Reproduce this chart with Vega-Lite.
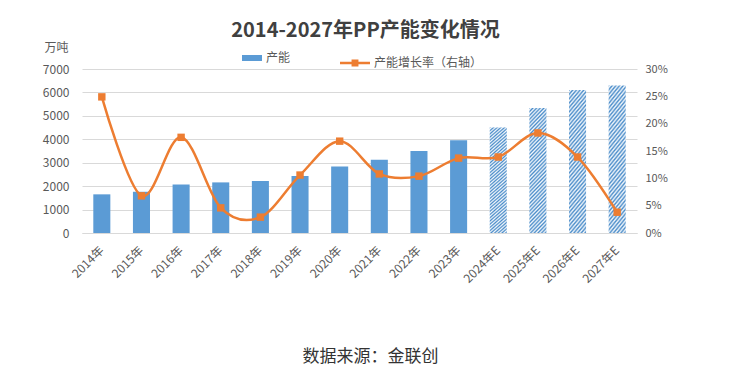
{
  "$schema": "https://vega.github.io/schema/vega-lite/v6.json",
  "width": 555,
  "height": 164,
  "autosize": {"type": "none"},
  "padding": {"left": 82, "top": 69, "right": 93, "bottom": 147},
  "background": "#ffffff",
  "title": {
    "text": "2014-2027年PP产能变化情况",
    "fontSize": 20,
    "fontWeight": "bold",
    "color": "#404040",
    "font": "Noto Sans CJK SC",
    "anchor": "middle",
    "dx": 6,
    "offset": 0
  },
  "config": {
    "view": {"stroke": null},
    "font": "Noto Sans CJK SC",
    "axis": {"labelFont": "Noto Sans CJK SC", "titleFont": "Noto Sans CJK SC"},
    "legend": {"labelFont": "Noto Sans CJK SC"}
  },
  "data": {
    "values": [
      {"year": "2014年", "cap": 1650, "rate": 0.249, "kind": "actual"},
      {"year": "2015年", "cap": 1760, "rate": 0.068, "kind": "actual"},
      {"year": "2016年", "cap": 2070, "rate": 0.175, "kind": "actual"},
      {"year": "2017年", "cap": 2160, "rate": 0.046, "kind": "actual"},
      {"year": "2018年", "cap": 2220, "rate": 0.029, "kind": "actual"},
      {"year": "2019年", "cap": 2430, "rate": 0.106, "kind": "actual"},
      {"year": "2020年", "cap": 2840, "rate": 0.168, "kind": "actual"},
      {"year": "2021年", "cap": 3130, "rate": 0.108, "kind": "actual"},
      {"year": "2022年", "cap": 3500, "rate": 0.104, "kind": "actual"},
      {"year": "2023年", "cap": 3960, "rate": 0.137, "kind": "actual"},
      {"year": "2024年E", "cap": 4500, "rate": 0.139, "kind": "forecast"},
      {"year": "2025年E", "cap": 5340, "rate": 0.183, "kind": "forecast"},
      {"year": "2026年E", "cap": 6100, "rate": 0.139, "kind": "forecast"},
      {"year": "2027年E", "cap": 6300, "rate": 0.038, "kind": "forecast"}
    ]
  },
  "encoding": {
    "x": {
      "field": "year",
      "type": "nominal",
      "sort": null,
      "scale": {"paddingInner": 0.57, "paddingOuter": 0.285},
      "axis": {
        "title": "数据来源：金联创",
        "titleFontSize": 17,
        "titleFontWeight": "normal",
        "titleColor": "#333333",
        "titleX": 288,
        "titleY": 115,
        "titleBaseline": "top",
        "titleAlign": "center",
        "labelAngle": -45,
        "labelAlign": "right",
        "labelBaseline": "middle",
        "labelFontSize": 12,
        "labelColor": "#595959",
        "labelPadding": 15,
        "labelOverlap": false,
        "ticks": false,
        "domainColor": "#D9D9D9",
        "domainWidth": 1
      }
    }
  },
  "layer": [
    {
      "encoding": {
        "y": {
          "field": "cap",
          "type": "quantitative",
          "scale": {"domain": [0, 7000]},
          "axis": {
            "values": [0, 1000, 2000, 3000, 4000, 5000, 6000, 7000],
            "format": "d",
            "labelOverlap": false,
            "grid": true,
            "title": "万吨",
            "titleAngle": 0,
            "titleX": -26,
            "titleY": -22,
            "titleAlign": "center",
            "titleBaseline": "middle",
            "titleFontSize": 12,
            "titleFontWeight": "normal",
            "titleColor": "#595959",
            "labelFontSize": 12,
            "labelColor": "#595959",
            "labelPadding": 13,
            "ticks": false,
            "domain": false,
            "gridColor": "#D9D9D9",
            "gridWidth": 1
          }
        }
      },
      "layer": [
        {
          "transform": [{"filter": "datum.kind === 'actual'"}],
          "mark": {"type": "bar"},
          "encoding": {
            "color": {
              "datum": "产能",
              "type": "nominal",
              "scale": {"range": ["#5B9BD5"]},
              "legend": {
                "orient": "none",
                "legendX": 160,
                "legendY": -21,
                "title": null,
                "symbolType": "M-1,-0.3H1V0.3H-1Z",
                "symbolSize": 400,
                "symbolStrokeWidth": 0,
                "labelFontSize": 12,
                "labelColor": "#595959",
                "labelOffset": 4
              }
            }
          }
        },
        {
          "transform": [{"filter": "datum.kind === 'forecast'"}],
          "mark": {
            "type": "bar",
            "fill": {
              "gradient": "linear",
              "x1": 0, "y1": 0, "x2": 0.17, "y2": 1.2,
              "stops": [
                {"offset": 0, "color": "#4A8CC9"}, {"offset": 0.0125, "color": "#F4F8FC"},
                {"offset": 0.025, "color": "#4A8CC9"}, {"offset": 0.0375, "color": "#F4F8FC"},
                {"offset": 0.05, "color": "#4A8CC9"}, {"offset": 0.0625, "color": "#F4F8FC"},
                {"offset": 0.075, "color": "#4A8CC9"}, {"offset": 0.0875, "color": "#F4F8FC"},
                {"offset": 0.1, "color": "#4A8CC9"}, {"offset": 0.1125, "color": "#F4F8FC"},
                {"offset": 0.125, "color": "#4A8CC9"}, {"offset": 0.1375, "color": "#F4F8FC"},
                {"offset": 0.15, "color": "#4A8CC9"}, {"offset": 0.1625, "color": "#F4F8FC"},
                {"offset": 0.175, "color": "#4A8CC9"}, {"offset": 0.1875, "color": "#F4F8FC"},
                {"offset": 0.2, "color": "#4A8CC9"}, {"offset": 0.2125, "color": "#F4F8FC"},
                {"offset": 0.225, "color": "#4A8CC9"}, {"offset": 0.2375, "color": "#F4F8FC"},
                {"offset": 0.25, "color": "#4A8CC9"}, {"offset": 0.2625, "color": "#F4F8FC"},
                {"offset": 0.275, "color": "#4A8CC9"}, {"offset": 0.2875, "color": "#F4F8FC"},
                {"offset": 0.3, "color": "#4A8CC9"}, {"offset": 0.3125, "color": "#F4F8FC"},
                {"offset": 0.325, "color": "#4A8CC9"}, {"offset": 0.3375, "color": "#F4F8FC"},
                {"offset": 0.35, "color": "#4A8CC9"}, {"offset": 0.3625, "color": "#F4F8FC"},
                {"offset": 0.375, "color": "#4A8CC9"}, {"offset": 0.3875, "color": "#F4F8FC"},
                {"offset": 0.4, "color": "#4A8CC9"}, {"offset": 0.4125, "color": "#F4F8FC"},
                {"offset": 0.425, "color": "#4A8CC9"}, {"offset": 0.4375, "color": "#F4F8FC"},
                {"offset": 0.45, "color": "#4A8CC9"}, {"offset": 0.4625, "color": "#F4F8FC"},
                {"offset": 0.475, "color": "#4A8CC9"}, {"offset": 0.4875, "color": "#F4F8FC"},
                {"offset": 0.5, "color": "#4A8CC9"}, {"offset": 0.5125, "color": "#F4F8FC"},
                {"offset": 0.525, "color": "#4A8CC9"}, {"offset": 0.5375, "color": "#F4F8FC"},
                {"offset": 0.55, "color": "#4A8CC9"}, {"offset": 0.5625, "color": "#F4F8FC"},
                {"offset": 0.575, "color": "#4A8CC9"}, {"offset": 0.5875, "color": "#F4F8FC"},
                {"offset": 0.6, "color": "#4A8CC9"}, {"offset": 0.6125, "color": "#F4F8FC"},
                {"offset": 0.625, "color": "#4A8CC9"}, {"offset": 0.6375, "color": "#F4F8FC"},
                {"offset": 0.65, "color": "#4A8CC9"}, {"offset": 0.6625, "color": "#F4F8FC"},
                {"offset": 0.675, "color": "#4A8CC9"}, {"offset": 0.6875, "color": "#F4F8FC"},
                {"offset": 0.7, "color": "#4A8CC9"}, {"offset": 0.7125, "color": "#F4F8FC"},
                {"offset": 0.725, "color": "#4A8CC9"}, {"offset": 0.7375, "color": "#F4F8FC"},
                {"offset": 0.75, "color": "#4A8CC9"}, {"offset": 0.7625, "color": "#F4F8FC"},
                {"offset": 0.775, "color": "#4A8CC9"}, {"offset": 0.7875, "color": "#F4F8FC"},
                {"offset": 0.8, "color": "#4A8CC9"}, {"offset": 0.8125, "color": "#F4F8FC"},
                {"offset": 0.825, "color": "#4A8CC9"}, {"offset": 0.8375, "color": "#F4F8FC"},
                {"offset": 0.85, "color": "#4A8CC9"}, {"offset": 0.8625, "color": "#F4F8FC"},
                {"offset": 0.875, "color": "#4A8CC9"}, {"offset": 0.8875, "color": "#F4F8FC"},
                {"offset": 0.9, "color": "#4A8CC9"}, {"offset": 0.9125, "color": "#F4F8FC"},
                {"offset": 0.925, "color": "#4A8CC9"}, {"offset": 0.9375, "color": "#F4F8FC"},
                {"offset": 0.95, "color": "#4A8CC9"}, {"offset": 0.9625, "color": "#F4F8FC"},
                {"offset": 0.975, "color": "#4A8CC9"}, {"offset": 0.9875, "color": "#F4F8FC"},
                {"offset": 1, "color": "#4A8CC9"}
              ]
            }
          }
        }
      ]
    },
    {
      "encoding": {
        "y": {
          "field": "rate",
          "type": "quantitative",
          "scale": {"domain": [0, 0.3]},
          "axis": {
            "orient": "right",
            "values": [0, 0.05, 0.1, 0.15, 0.2, 0.25, 0.3],
            "format": ".0%",
            "labelOverlap": false,
            "title": null,
            "grid": false,
            "ticks": false,
            "domain": false,
            "labelFontSize": 11,
            "labelColor": "#595959",
            "labelPadding": 8
          }
        }
      },
      "layer": [
        {
          "mark": {"type": "line", "interpolate": "cardinal", "strokeWidth": 2.5},
          "encoding": {
            "stroke": {
              "datum": "产能增长率（右轴）",
              "type": "nominal",
              "scale": {"range": ["#ED7D31"]},
              "legend": {
                "orient": "none",
                "legendX": 258,
                "legendY": -21,
                "title": null,
                "symbolType": "M-1,-0.08H1V0.08H-1Z M-0.23,-0.23H0.23V0.23H-0.23Z",
                "symbolSize": 900,
                "symbolFillColor": "#ED7D31",
                "symbolStrokeWidth": 0,
                "labelFontSize": 12,
                "labelColor": "#595959",
                "labelOffset": 4
              }
            }
          }
        },
        {
          "mark": {"type": "point", "shape": "square", "filled": true, "size": 55, "color": "#ED7D31", "opacity": 1}
        }
      ]
    }
  ],
  "resolve": {"scale": {"y": "independent"}}
}
